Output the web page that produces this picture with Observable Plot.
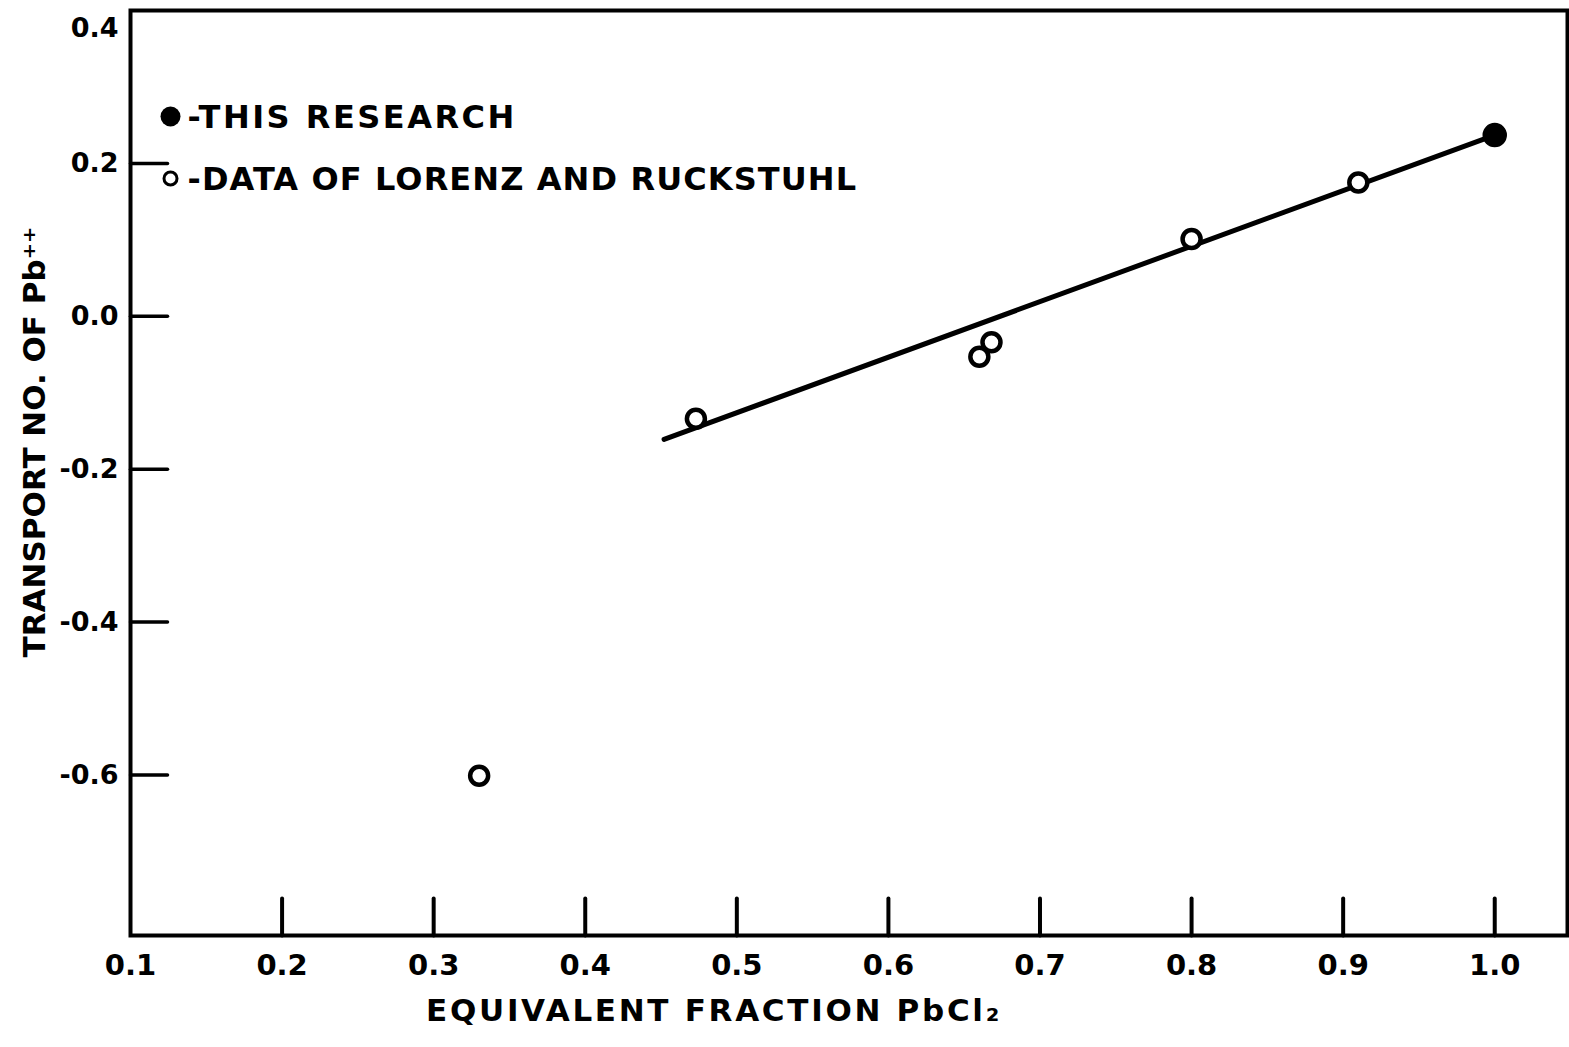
<!DOCTYPE html>
<html>
<head>
<meta charset="utf-8">
<script src="https://cdn.jsdelivr.net/npm/d3@7"></script>
<script src="https://cdn.jsdelivr.net/npm/@observablehq/plot@0.6"></script>
<style>
  html, body { margin: 0; padding: 0; background: #fff; }
  svg { display: block; }
</style>
</head>
<body>
<div id="chart"></div>
<script>
// Data
const researchX = [1.0];
const researchY = [0.237];
const lorenzX = [0.33, 0.473, 0.66, 0.668, 0.80, 0.91];
const lorenzY = [-0.601, -0.134, -0.053, -0.034, 0.101, 0.175];
const fitX = [0.452, 1.0];
const fitY = [-0.161, 0.237];
const xTicks = [0.1, 0.2, 0.3, 0.4, 0.5, 0.6, 0.7, 0.8, 0.9, 1.0];
const xTickMarks = [0.2, 0.3, 0.4, 0.5, 0.6, 0.7, 0.8, 0.9, 1.0];
const yTicks = [0.2, 0.0, -0.2, -0.4, -0.6];
const yTopLabel = [0.4];
const legendLabels = ["-THIS RESEARCH", "-DATA OF LORENZ AND RUCKSTUHL"];
const xLabel = "EQUIVALENT FRACTION PbCl\u2082";
const yLabel = "TRANSPORT NO. OF Pb\u207A\u207A";

const research = researchX.map((x, i) => ({x, y: researchY[i]}));
const lorenz = lorenzX.map((x, i) => ({x, y: lorenzY[i]}));
const fit = fitX.map((x, i) => ({x, y: fitY[i]}));

const tickShape = { draw(context, l) { context.moveTo(0, 0); context.lineTo(0, -l); } };
const FONT = "'DejaVu Sans', sans-serif";

const chart = Plot.plot({
  width: 1569,
  height: 1047,
  marginLeft: 130,
  marginRight: 2,
  marginTop: 10,
  marginBottom: 112,
  style: { fontFamily: FONT, fontSize: "28px", color: "#000", background: "#fff" },
  x: { domain: [0.1, 1.048] },
  y: { domain: [-0.81, 0.4] },
  marks: [
    Plot.frame({ stroke: "#000", strokeWidth: 4 }),
    // inward x ticks
    Plot.vector(xTickMarks, { x: d => d, frameAnchor: "bottom", length: 37, rotate: 0, anchor: "start", shape: tickShape, stroke: "#000", strokeWidth: 4 }),
    // inward y ticks
    Plot.vector(yTicks, { y: d => d, frameAnchor: "left", length: 37, rotate: 90, anchor: "start", shape: tickShape, stroke: "#000", strokeWidth: 3.5 }),
    Plot.axisX(xTicks, { tickSize: 0, tickPadding: 19, tickFormat: d => d.toFixed(1), fontSize: 29, fontWeight: "bold", label: null }),
    Plot.axisY(yTicks, { tickSize: 0, tickPadding: 12, tickFormat: d => d.toFixed(1), fontSize: 27, fontWeight: "bold", label: null }),
    Plot.text(yTopLabel, { y: d => d, frameAnchor: "left", dx: -12, dy: 18, textAnchor: "end", text: d => d.toFixed(1), fontSize: 27, fontWeight: "bold" }),
    // axis titles
    Plot.text([xLabel], { frameAnchor: "bottom", textAnchor: "middle", dx: -135, dy: 85, text: d => d, fontSize: 31, fontWeight: "bold" }),
    Plot.text([yLabel], { frameAnchor: "left", textAnchor: "middle", dx: -95, dy: -31, rotate: -90, text: d => d, fontSize: 31, fontWeight: "bold" }),
    // fitted line
    Plot.line(fit, { x: "x", y: "y", stroke: "#000", strokeWidth: 5 }),
    // data
    Plot.dot(lorenz, { x: "x", y: "y", r: 9, fill: "#fff", stroke: "#000", strokeWidth: 4.5 }),
    Plot.dot(research, { x: "x", y: "y", r: 11.5, fill: "#000", stroke: "#000" }),
    // legend
    Plot.dot([0], { frameAnchor: "top-left", dx: 40, dy: 106, r: 10, fill: "#000" }),
    Plot.dot([0], { frameAnchor: "top-left", dx: 40, dy: 168, r: 6.5, fill: "#fff", stroke: "#000", strokeWidth: 3 }),
    Plot.text([legendLabels[0]], { frameAnchor: "top-left", dx: 57, dy: 107, text: d => d, textAnchor: "start", lineAnchor: "middle", fontSize: 32, fontWeight: "bold" }),
    Plot.text([legendLabels[1]], { frameAnchor: "top-left", dx: 57, dy: 169, text: d => d, textAnchor: "start", lineAnchor: "middle", fontSize: 32, fontWeight: "bold" })
  ]
});
const spacing = new Map([[legendLabels[0], "2.5px"], [legendLabels[1], "1.1px"], [xLabel, "2.7px"]]);
d3.select(chart).selectAll("text").each(function () {
  const s = spacing.get(this.textContent);
  if (s) this.style.letterSpacing = s;
});
document.getElementById("chart").appendChild(chart);
</script>
</body>
</html>
